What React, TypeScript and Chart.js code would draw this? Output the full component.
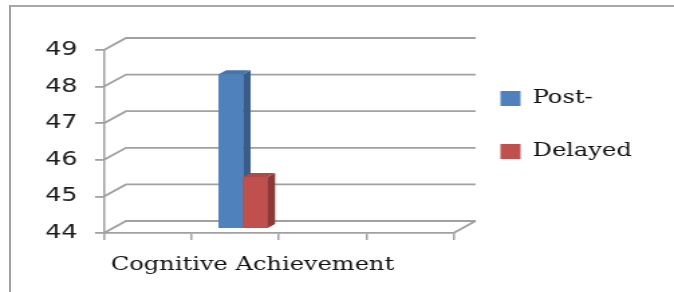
import { useEffect, useRef } from "react";
import { Chart, registerables } from "chart.js";

Chart.register(...registerables);

// ---- data ----
const categories = ["", "Cognitive Achievement", "", ""];
const seriesNames = ["Post-", "Delayed"];
const postValues = [null, 48.23, null, null];
const delayedValues = [null, 45.42, null, null];
const yMin = 44;
const yMax = 49;
const yStep = 1;

// ---- styling ----
const CW = 503; // internal canvas width (stretched horizontally to 674 by CSS)
const CH = 292;
const GRID = "#a0a0a0";
const frontColors = ["#4F81BD", "#C0504D"];
const sideColors = ["#385D8A", "#8C3836"];
const topColors = ["#4675AE", "#B04846"];
const DEPTH = { dx: 16.4, dy: -12 };
const BAR_SHIFT = { dx: 6, dy: -4 };
const BAR_DEPTH = { dx: 5.6, dy: -4 };

const threeD = {
  id: "threeD",
  beforeDatasetsDraw(chart: any) {
    const { ctx, chartArea: a } = chart;
    const y = chart.scales.y;
    ctx.save();
    ctx.strokeStyle = GRID;
    ctx.lineWidth = 1.8;
    y.ticks.forEach((t: any) => {
      const py = y.getPixelForValue(t.value);
      ctx.beginPath();
      ctx.moveTo(a.left, py);
      ctx.lineTo(a.left + DEPTH.dx, py + DEPTH.dy);
      ctx.lineTo(a.right + DEPTH.dx, py + DEPTH.dy);
      ctx.stroke();
    });
    ctx.beginPath();
    ctx.moveTo(a.right, a.bottom);
    ctx.lineTo(a.right + DEPTH.dx, a.bottom + DEPTH.dy);
    ctx.stroke();
    ctx.restore();
    ctx.save();
    ctx.translate(BAR_SHIFT.dx, BAR_SHIFT.dy);
  },
  afterDatasetsDraw(chart: any) {
    const { ctx } = chart;
    chart.data.datasets.forEach((ds: any, di: number) => {
      const meta = chart.getDatasetMeta(di);
      meta.data.forEach((bar: any, i: number) => {
        if (ds.data[i] == null) return;
        const { x, y, base, width } = bar.getProps(["x", "y", "base", "width"], true);
        if (!isFinite(y)) return;
        bar.draw(ctx, chart.chartArea);
        const l = x - width / 2;
        const r = x + width / 2;
        ctx.fillStyle = sideColors[di];
        ctx.beginPath();
        ctx.moveTo(r, y);
        ctx.lineTo(r + BAR_DEPTH.dx, y + BAR_DEPTH.dy);
        ctx.lineTo(r + BAR_DEPTH.dx, base + BAR_DEPTH.dy);
        ctx.lineTo(r, base);
        ctx.closePath();
        ctx.fill();
        ctx.fillStyle = topColors[di];
        ctx.beginPath();
        ctx.moveTo(l, y);
        ctx.lineTo(l + BAR_DEPTH.dx, y + BAR_DEPTH.dy);
        ctx.lineTo(r + BAR_DEPTH.dx, y + BAR_DEPTH.dy);
        ctx.lineTo(r, y);
        ctx.closePath();
        ctx.fill();
      });
    });
    ctx.restore();
  },
};

export default function App() {
  const ref = useRef<HTMLCanvasElement>(null);
  useEffect(() => {
    if (!ref.current) return;
    const chart = new Chart(ref.current, {
      type: "bar",
      data: {
        labels: categories,
        datasets: [
          { label: seriesNames[0], data: postValues as any, base: yMin, backgroundColor: frontColors[0], borderWidth: 0 } as any,
          { label: seriesNames[1], data: delayedValues as any, base: yMin, backgroundColor: frontColors[1], borderWidth: 0 } as any,
        ],
      },
      options: {
        responsive: false,
        devicePixelRatio: 1,
        animation: false,
        events: [],
        layout: { padding: { top: 50, right: 21.6, bottom: 0, left: 0 } },
        datasets: { bar: { categoryPercentage: 0.56, barPercentage: 1, clip: false as any } },
        plugins: {
          tooltip: { enabled: false },
          legend: {
            position: "right",
            align: "start",
            fullSize: false,
            maxWidth: 300,
            title: { display: true, text: " ", padding: 0, font: { size: 4.5, lineHeight: 1 } },
            labels: {
              boxWidth: 15,
              boxHeight: 15,
              padding: 35,
              color: "#111",
              font: { family: "DejaVu Serif", size: 18 },
            },
          } as any,
        },
        scales: {
          x: {
            afterFit: (s: any) => { s.height = CH - 233; },
            grid: { offset: true, drawOnChartArea: false, drawTicks: true, tickLength: 7, color: GRID, lineWidth: 1.5 },
            border: { display: true, color: GRID, width: 1.8 },
            ticks: {
              autoSkip: false,
              maxRotation: 0,
              minRotation: 0,
              labelOffset: 13,
              padding: 15,
              color: "#111",
              font: { family: "DejaVu Serif", size: 18 },
            },
          },
          y: {
            min: yMin,
            max: yMax,
            beginAtZero: false,
            afterFit: (s: any) => { s.width = 77.6; },
            grid: { drawOnChartArea: false, drawTicks: true, tickLength: 6.7, color: GRID, lineWidth: 1.8 },
            border: { display: true, color: GRID, width: 1.5 },
            ticks: {
              stepSize: yStep,
              padding: 13,
              color: "#1a1a1a",
              font: { family: "DejaVu Sans", size: 19 },
            },
          },
        },
      },
      plugins: [threeD],
    });
    return () => chart.destroy();
  }, []);

  return (
    <div style={{ position: "absolute", left: 0, top: 0, width: 674, height: 292, background: "#fff", overflow: "hidden" }}>
      <div
        style={{
          position: "absolute",
          left: 9,
          top: 5,
          width: 700,
          height: 300,
          borderLeft: "2px solid #a0a0a0",
          borderTop: "2px solid #a8a8a8",
        }}
      />
      <canvas
        ref={ref}
        width={CW}
        height={CH}
        style={{ position: "absolute", left: 0, top: 0, width: "674px", height: "292px" }}
      />
    </div>
  );
}
